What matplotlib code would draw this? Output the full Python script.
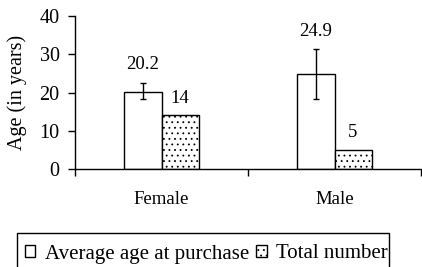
import matplotlib
matplotlib.use("Agg")
import matplotlib.pyplot as plt
from matplotlib.patches import Rectangle
import numpy as np

categories = ["Female", "Male"]
avg_age = [20.2, 24.9]
avg_err_low = [2.0, 6.6]
avg_err_high = [2.4, 6.5]
total_number = [14, 5]
yticks = [0, 10, 20, 30, 40]

plt.rcParams['font.family'] = ['Liberation Serif', 'DejaVu Serif']
plt.rcParams['hatch.linewidth'] = 0.6

fig = plt.figure(figsize=(4.22, 2.67), dpi=100)
ax = fig.add_axes([75/422, 1-169/267, 346/422, 153/267])

x = np.arange(len(categories))
w = 0.214
b1 = ax.bar(x - w/2, avg_age, w, color='white', edgecolor='black', linewidth=1.0,
            label='Average age at purchase')
ax.errorbar(x - w/2, avg_age, yerr=[avg_err_low, avg_err_high], fmt='none',
            ecolor='black', elinewidth=1.0, capsize=2.5, capthick=1.0)
b2 = ax.bar(x + w/2, total_number, w, color='white', edgecolor='black', linewidth=1.0,
            hatch='...', label='Total number')

fs = 13.5
for i, v in enumerate(avg_age):
    ax.text(x[i] - w/2, v + avg_err_high[i] + 2.4, f"{v}", ha='center', va='bottom', fontsize=fs)
for i, v in enumerate(total_number):
    ax.text(x[i] + w/2, v + 2.2, f"{v}", ha='center', va='bottom', fontsize=fs)

ax.set_xlim(-0.5, 1.5)
ax.set_ylim(0, 40)
ax.set_yticks(yticks)
ax.set_yticklabels([str(t) for t in yticks], fontsize=14.5)
ax.set_xticks([-0.5, 0.5, 1.5])
ax.set_xticklabels([])
ax.set_xticks(x, minor=True)
ax.set_xticklabels(categories, minor=True, fontsize=fs)
ax.tick_params(axis='x', which='minor', length=0, pad=16)
ax.tick_params(axis='both', which='major', length=5, width=1, direction='out', pad=6)
ax.set_ylabel("Age (in years)", fontsize=14.5, labelpad=9)
for s in ['top', 'right']:
    ax.spines[s].set_visible(False)
for s in ['left', 'bottom']:
    ax.spines[s].set_linewidth(1.0)

leg = fig.legend(handles=[b1, b2], loc='center left', bbox_to_anchor=(25/422, 1-254/267),
                 ncol=2, frameon=False, fontsize=15,
                 handlelength=0.5, handleheight=0.5, handletextpad=0.45, columnspacing=0.35,
                 borderpad=0, borderaxespad=0)
fig.add_artist(Rectangle((17/422, -0.2), 372/422, 0.2 + 1 - 233/267,
                         transform=fig.transFigure, fill=False, edgecolor='black',
                         linewidth=1.0, clip_on=False))

fig.savefig("out.png", dpi=100)
